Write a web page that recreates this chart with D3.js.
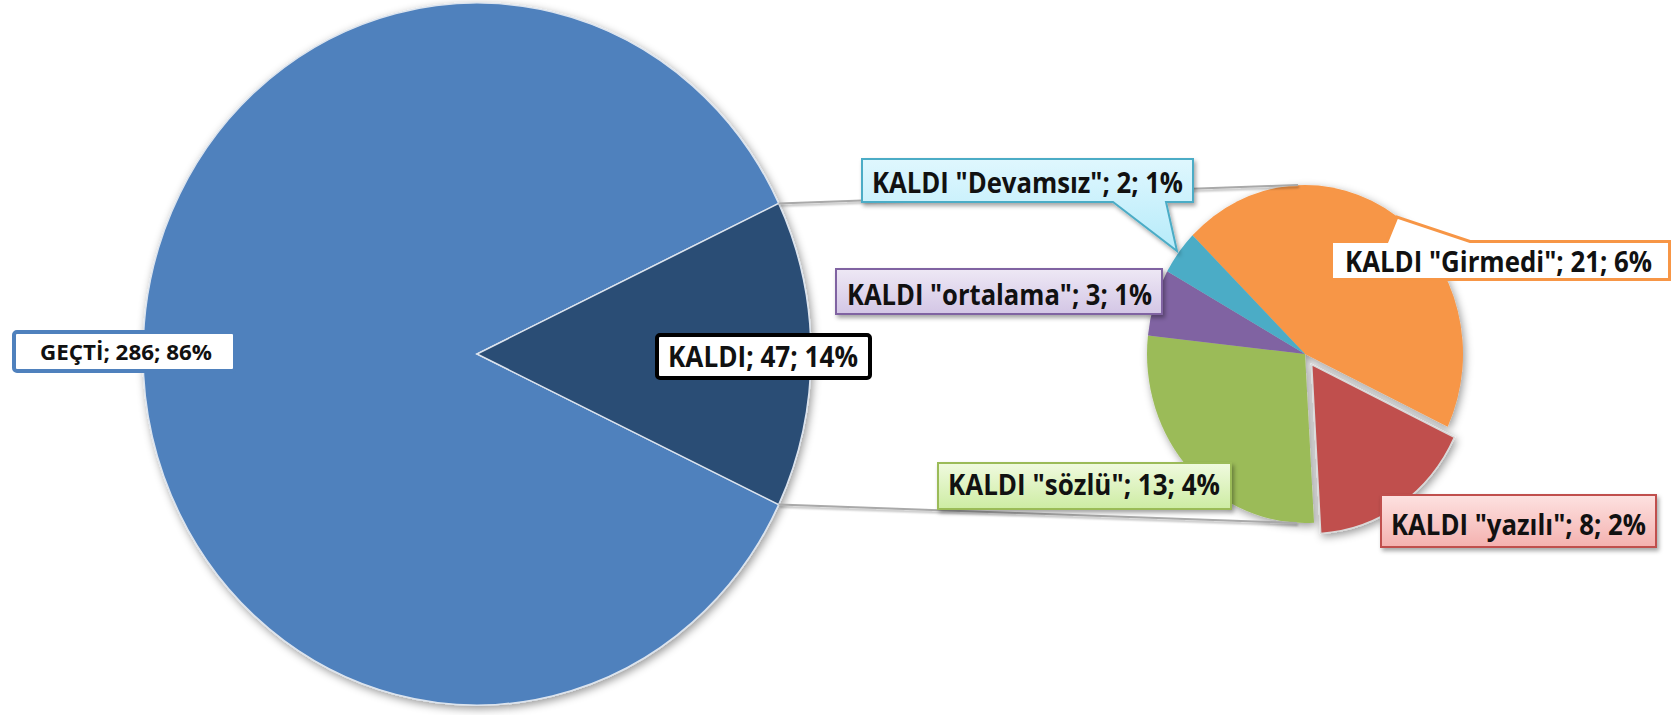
<!DOCTYPE html>
<html>
<head>
<meta charset="utf-8">
<script src="https://cdn.jsdelivr.net/npm/d3@7"></script>
<style>
  html, body { margin: 0; padding: 0; background: #fff; }
  svg { display: block; }
</style>
</head>
<body>
<svg id="chart" width="1678" height="715"></svg>
<script>
// Main pie: passed vs. failed
const mainCategories = ["GEÇTİ", "KALDI"];
const mainValues = [286, 47];

// Breakdown of the failed group, listed clockwise from the start angle
const subCategories = ['KALDI "Girmedi"', 'KALDI "yazılı"', 'KALDI "sözlü"', 'KALDI "ortalama"', 'KALDI "Devamsız"'];
const subValues = [21, 8, 13, 3, 2];

const mainColors = ["#4F81BD", "#2C4D75"];
const subColors = ["#F79646", "#C0504D", "#9BBB59", "#8064A2", "#4BACC6"];

// ---- layout ----
const mainPie = { cx: 477, cy: 354, rx: 334, ry: 351 };
const subPie = { cx: 1305, cy: 354, rx: 158, ry: 169, start: -45.4 * Math.PI / 180, explode: { 'KALDI "yazılı"': 12 } };

const FONT = "'Open Sans', 'Noto Sans', 'Liberation Sans', sans-serif";

const labelLayout = {
  "GEÇTİ":            { box: [12, 330, 225, 43], stroke: "#4F81BD", sw: 4, fill: "#fff", size: 21, tx: 40, ty: 360, len: 172, r: 3 },
  "KALDI":            { box: [655, 333, 217, 47], stroke: "#000", sw: 4, fill: "#fff", size: 28, tx: 668, ty: 367, len: 190, r: 3 },
  'KALDI "Devamsız"': { box: [861, 158, 333, 45], stroke: "#4BACC6", sw: 2, fill: "url(#gCyan)", size: 28, tx: 872, ty: 193, len: 311, shadow: true,
                        pointer: { edge: "bottom", a: 1113, b: 1166, tip: [1177, 251] } },
  'KALDI "ortalama"': { box: [835, 268, 328, 47], stroke: "#8064A2", sw: 2, fill: "url(#gPurple)", size: 28, tx: 847, ty: 305, len: 305, shadow: true },
  'KALDI "Girmedi"':  { box: [1330, 240, 341, 41], stroke: "#F79646", sw: 3, fill: "#fff", size: 28, tx: 1345, ty: 272, len: 307,
                        pointer: { edge: "top", a: 1387, b: 1470, tip: [1397, 217] } },
  'KALDI "sözlü"':    { box: [937, 462, 295, 48], stroke: "#9BBB59", sw: 2, fill: "url(#gGreen)", size: 28, tx: 948, ty: 495, len: 272, shadow: true },
  'KALDI "yazılı"':   { box: [1380, 494, 277, 54], stroke: "#C0504D", sw: 2, fill: "url(#gPink)", size: 28, tx: 1391, ty: 535, len: 255, shadow: true }
};

const svg = d3.select("#chart");
const defs = svg.append("defs");

// soft outer shadows
const pieShadow = defs.append("filter").attr("id", "pieShadow")
  .attr("x", "-10%").attr("y", "-10%").attr("width", "120%").attr("height", "120%");
pieShadow.append("feDropShadow").attr("dx", 2).attr("dy", 3).attr("stdDeviation", 4)
  .attr("flood-color", "#000").attr("flood-opacity", 0.4);

const boxShadow = defs.append("filter").attr("id", "boxShadow")
  .attr("x", "-10%").attr("y", "-30%").attr("width", "120%").attr("height", "160%");
boxShadow.append("feDropShadow").attr("dx", 2).attr("dy", 3).attr("stdDeviation", 2)
  .attr("flood-color", "#000").attr("flood-opacity", 0.35);

const lineShadow = defs.append("filter").attr("id", "lineShadow")
  .attr("x", "-5%").attr("y", "-50%").attr("width", "110%").attr("height", "200%");
lineShadow.append("feDropShadow").attr("dx", 1).attr("dy", 2).attr("stdDeviation", 1.2)
  .attr("flood-color", "#000").attr("flood-opacity", 0.3);

// gentle vertical gradients for the callout fills
[["gCyan", "#dff7fe", "#b6ebfa"], ["gPurple", "#eee8f5", "#d3c6e5"],
 ["gGreen", "#f0fadf", "#cdeca3"], ["gPink", "#fde2e1", "#f4b1af"]].forEach(([id, c0, c1]) => {
  const g = defs.append("linearGradient").attr("id", id).attr("x1", 0).attr("y1", 0).attr("x2", 0).attr("y2", 1);
  g.append("stop").attr("offset", "0%").attr("stop-color", c0);
  g.append("stop").attr("offset", "100%").attr("stop-color", c1);
});

const total = d3.sum(mainValues);
const pct = v => Math.round(v / total * 100) + "%";

// ---- main pie (the failed slice centred on the right) ----
const kaldiIdx = mainCategories.indexOf("KALDI");
const kaldiSpan = mainValues[kaldiIdx] / total * 2 * Math.PI;
const mainStart = Math.PI / 2 + kaldiSpan / 2;
const mainArcs = d3.pie().sort(null).value(d => d.value)
  .startAngle(mainStart).endAngle(mainStart + 2 * Math.PI)(
    mainCategories.map((c, i) => ({ name: c, value: mainValues[i], color: mainColors[i] })));

const mainArc = d3.arc().innerRadius(0).outerRadius(mainPie.rx);
const mainWrap = svg.append("g").attr("filter", "url(#pieShadow)");
const mainG = mainWrap.append("g")
  .attr("transform", `translate(${mainPie.cx},${mainPie.cy}) scale(1,${mainPie.ry / mainPie.rx})`);
mainG.selectAll("path").data(mainArcs).join("path")
  .attr("d", mainArc)
  .attr("fill", d => d.data.color)
  .attr("stroke", "#dce4ee")
  .attr("stroke-width", 1.5)
  .attr("vector-effect", "non-scaling-stroke");

// ---- secondary pie ----
const subArcs = d3.pie().sort(null).value(d => d.value)
  .startAngle(subPie.start).endAngle(subPie.start + 2 * Math.PI)(
    subCategories.map((c, i) => ({ name: c, value: subValues[i], color: subColors[i] })));
const subArc = d3.arc().innerRadius(0).outerRadius(subPie.rx);
const subWrap = svg.append("g").attr("filter", "url(#pieShadow)");
const subG = subWrap.append("g")
  .attr("transform", `translate(${subPie.cx},${subPie.cy}) scale(1,${subPie.ry / subPie.rx})`);
subG.selectAll("path").data(subArcs).join("path")
  .attr("d", subArc)
  .attr("fill", d => d.data.color)
  .attr("transform", d => {
    const off = subPie.explode[d.data.name] || 0;
    const mid = (d.startAngle + d.endAngle) / 2;
    return `translate(${off * Math.sin(mid)},${-off * Math.cos(mid)})`;
  })
  .attr("stroke", d => subPie.explode[d.data.name] ? "#d9d9d9" : "none")
  .attr("stroke-width", 1.5)
  .attr("vector-effect", "non-scaling-stroke");

// ---- connector lines from the failed slice to the secondary pie ----
const kArc = mainArcs[kaldiIdx];
const onMain = a => [mainPie.cx + mainPie.rx * Math.sin(a), mainPie.cy - mainPie.ry * Math.cos(a)];
const p1 = onMain(kArc.startAngle), p2 = onMain(kArc.endAngle);
const connectors = [
  [p1, [subPie.cx - 7, subPie.cy - subPie.ry]],
  [p2, [subPie.cx - 8, subPie.cy + subPie.ry]]
];
svg.append("g").attr("filter", "url(#lineShadow)")
  .selectAll("line").data(connectors).join("line")
  .attr("x1", d => d[0][0]).attr("y1", d => d[0][1])
  .attr("x2", d => d[1][0]).attr("y2", d => d[1][1])
  .attr("stroke", "#a9a9a9").attr("stroke-width", 2);

// ---- data labels ----
function calloutPath(L) {
  const [x, y, w, h] = L.box;
  const s = L.sw / 2;
  const x0 = x + s, y0 = y + s, x1 = x + w - s, y1 = y + h - s;
  const p = L.pointer;
  if (!p) return null;
  if (p.edge === "top") {
    return `M${x0},${y0}H${p.a}L${p.tip[0]},${p.tip[1]}L${p.b},${y0}H${x1}V${y1}H${x0}Z`;
  }
  return `M${x0},${y0}H${x1}V${y1}H${p.b}L${p.tip[0]},${p.tip[1]}L${p.a},${y1}H${x0}Z`;
}

const labelData = mainCategories.map((c, i) => ({ name: c, value: mainValues[i] }))
  .concat(subCategories.map((c, i) => ({ name: c, value: subValues[i] })));

const labels = svg.append("g").selectAll("g.lbl").data(labelData).join("g").attr("class", "lbl");
labels.each(function (d) {
  const L = labelLayout[d.name];
  const g = d3.select(this);
  const shape = g.append("g").attr("filter", L.shadow ? "url(#boxShadow)" : null);
  const path = calloutPath(L);
  if (path) {
    shape.append("path").attr("d", path)
      .attr("fill", L.fill).attr("stroke", L.stroke).attr("stroke-width", L.sw)
      .attr("stroke-linejoin", "miter");
  } else {
    const [x, y, w, h] = L.box;
    shape.append("rect")
      .attr("x", x + L.sw / 2).attr("y", y + L.sw / 2)
      .attr("width", w - L.sw).attr("height", h - L.sw)
      .attr("rx", L.r || 0)
      .attr("fill", L.fill).attr("stroke", L.stroke).attr("stroke-width", L.sw);
  }
  g.append("text")
    .attr("x", L.tx).attr("y", L.ty)
    .attr("font-family", FONT).attr("font-weight", 700).attr("font-size", L.size)
    .attr("fill", "#111")
    .attr("textLength", L.len).attr("lengthAdjust", "spacingAndGlyphs")
    .text(`${d.name}; ${d.value}; ${pct(d.value)}`);
});
</script>
</body>
</html>
